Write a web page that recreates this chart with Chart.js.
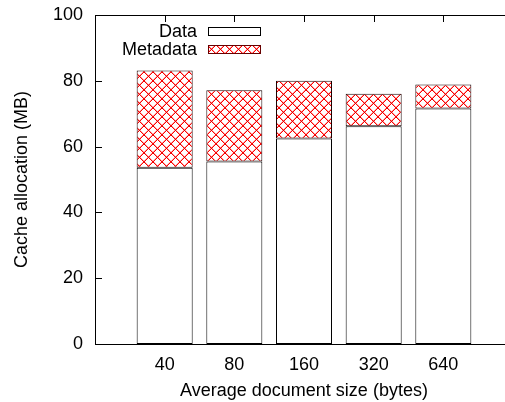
<!DOCTYPE html>
<html><head><meta charset="utf-8">
<script src="https://cdn.jsdelivr.net/npm/chart.js@4.4.1/dist/chart.umd.min.js"></script>
<style>html,body{margin:0;padding:0;overflow:hidden;background:#fff;width:505px;height:402px}canvas{display:block}</style>
</head><body>
<canvas id="c" width="520" height="402"></canvas>
<script>
const categories = ['40', '80', '160', '320', '640'];
const dataValues = [53.6, 55.5, 62.5, 66.2, 71.6];
const metadataValues = [29.5, 21.6, 17.5, 9.9, 7.3];
const yTicks = [0, 20, 40, 60, 80, 100];
const seriesNames = ['Data', 'Metadata'];

const FONT = "'Liberation Sans', Arial, Helvetica, sans-serif";
const canvas = document.getElementById('c');
const mainCtx = canvas.getContext('2d');

function makeHatch() {
  const p = 9;
  const t = document.createElement('canvas');
  t.width = p; t.height = p;
  const g = t.getContext('2d');
  g.fillStyle = '#fff'; g.fillRect(0, 0, p, p);
  g.fillStyle = 'rgba(255,0,0,0.35)';
  for (let i = 0; i < p; i++) {
    g.fillRect((i + 1) % p, i, 1, 1);
    g.fillRect((2 * p - 2 - i) % p, i, 1, 1);
  }
  g.fillStyle = '#ff0000';
  for (let i = 0; i < p; i++) { g.fillRect(i, i, 1, 1); g.fillRect(p - 1 - i, i, 1, 1); }
  g.fillStyle = '#d00000';
  g.fillRect(0, 0, 1, 1); g.fillRect(4, 4, 1, 1);
  return mainCtx.createPattern(t, 'repeat');
}
const hatch = makeHatch();

Chart.defaults.color = '#000';
Chart.defaults.font.family = FONT;
Chart.defaults.font.size = 18;

const TICK = 7;
const framePlugin = {
  id: 'frame',
  beforeDatasetsDraw(chart) {
    const {ctx, chartArea: a, scales: {x, y}} = chart;
    ctx.save();
    ctx.strokeStyle = '#000'; ctx.lineWidth = 1;
    ctx.beginPath();
    yTicks.forEach(v => {
      const py = Math.round(y.getPixelForValue(v)) + 0.5;
      ctx.moveTo(a.left, py); ctx.lineTo(a.left + TICK, py);
      ctx.moveTo(a.right, py); ctx.lineTo(a.right - TICK, py);
    });
    categories.forEach((c, i) => {
      const px = Math.round(x.getPixelForValue(i)) + 0.5;
      ctx.moveTo(px, a.top); ctx.lineTo(px, a.top + TICK);
      ctx.moveTo(px, a.bottom); ctx.lineTo(px, a.bottom - TICK);
    });
    ctx.stroke();
    ctx.restore();
  },
  afterDatasetsDraw(chart) {
    const {ctx, chartArea: a} = chart;
    ctx.save();
    ctx.strokeStyle = '#000'; ctx.lineWidth = 1;
    const l = Math.round(a.left) + 0.5, t = Math.round(a.top) + 0.5;
    ctx.strokeRect(l, t, Math.round(a.right) - l, Math.round(a.bottom) + 0.5 - t);
    ctx.restore();
  },
  afterDraw(chart) {
    const ctx = chart.ctx;
    ctx.save();
    ctx.font = '18px ' + FONT;
    ctx.fillStyle = '#000';
    ctx.textAlign = 'right';
    ctx.textBaseline = 'middle';
    ctx.fillText(seriesNames[0], 197, 32);
    ctx.fillText(seriesNames[1], 197, 50);
    ctx.fillStyle = '#fff';
    ctx.fillRect(208.5, 27.5, 52, 8);
    ctx.strokeStyle = '#000';
    ctx.strokeRect(208.5, 27.5, 52, 8);
    ctx.fillStyle = hatch;
    ctx.fillRect(208.5, 45.5, 52, 8);
    ctx.strokeStyle = '#600';
    ctx.strokeRect(208.5, 45.5, 52, 8);
    ctx.restore();
  }
};

new Chart(canvas, {
  type: 'bar',
  data: {
    datasets: [
      {
        label: seriesNames[0],
        data: categories.map((c, i) => ({x: i, y: dataValues[i]})),
        backgroundColor: '#fff', borderColor: '#000', borderWidth: 1, borderSkipped: false,
        barPercentage: 0.804, categoryPercentage: 1
      },
      {
        label: seriesNames[1],
        data: categories.map((c, i) => ({x: i, y: metadataValues[i]})),
        backgroundColor: hatch, borderColor: '#1a0000', borderWidth: 1, borderSkipped: false,
        barPercentage: 0.804, categoryPercentage: 1
      }
    ]
  },
  options: {
    responsive: false, animation: false, devicePixelRatio: 1,
    layout: {padding: {left: 0, right: 7, top: 15, bottom: 0}},
    plugins: {legend: {display: false}, tooltip: {enabled: false}},
    scales: {
      x: {
        type: 'linear', stacked: true, min: -1, max: 5, offset: false,
        grid: {display: false, drawTicks: true, tickLength: 10, offset: false}, border: {display: false},
        ticks: {stepSize: 1, autoSkip: false, maxRotation: 0, padding: 0,
          callback: v => (categories[v] !== undefined ? categories[v] : '')},
        title: {display: true, text: 'Average document size (bytes)', font: {size: 18}, padding: {top: 0, bottom: 0}},
        afterFit: s => { s.height = 58; }
      },
      y: {
        stacked: true, min: 0, max: 100,
        grid: {display: false, drawTicks: true, tickLength: 12}, border: {display: false},
        ticks: {stepSize: 20, padding: 0},
        title: {display: true, text: 'Cache allocation (MB)', font: {size: 18}, padding: {top: 11, bottom: 0}},
        afterFit: s => { s.width = 95; }
      }
    }
  },
  plugins: [framePlugin]
});
</script>
</body></html>
